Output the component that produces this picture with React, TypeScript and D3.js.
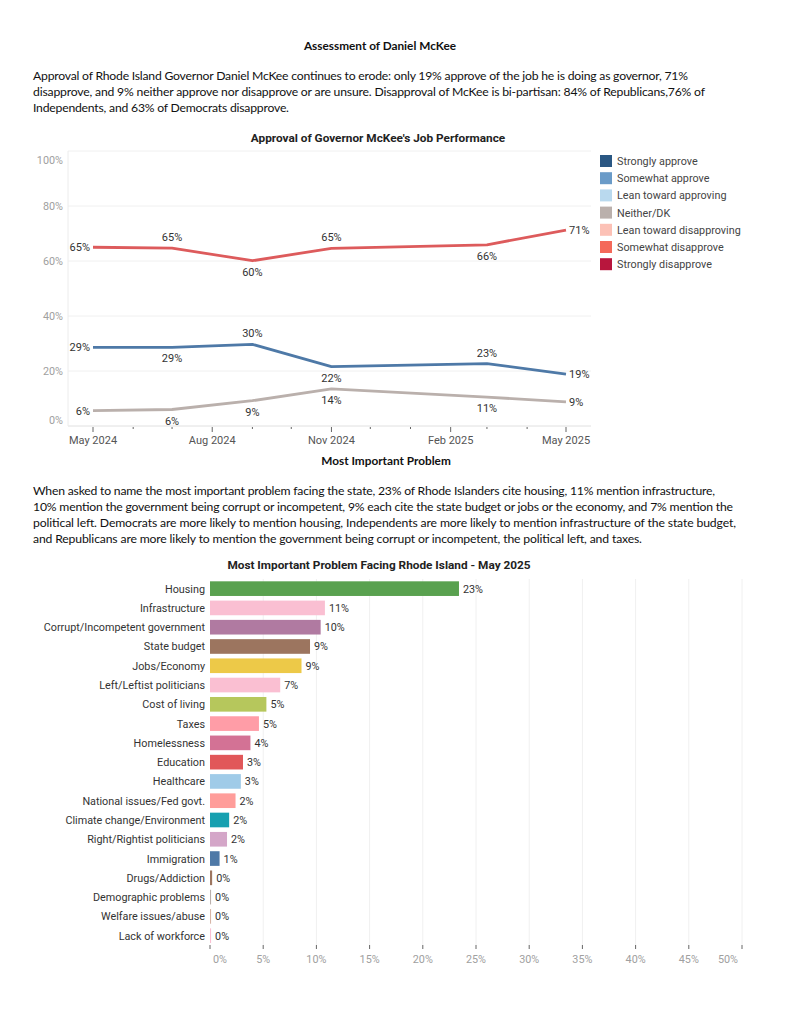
import React from 'react';
import * as d3 from 'd3';

// ---- Approval trend data ----
const surveyDates = ['2024-05-01', '2024-07-01', '2024-09-01', '2024-11-01', '2025-03-01', '2025-05-01'];
const disapproveValues = [65.0, 64.7, 60.1, 64.6, 65.9, 71.2];
const approveValues = [28.6, 28.6, 29.7, 21.6, 22.7, 18.9];
const neitherValues = [5.6, 6.0, 9.2, 13.5, 10.5, 8.8];
const approvalTicks = [0, 20, 40, 60, 80, 100];
const monthTickLabels = ['May 2024', 'Aug 2024', 'Nov 2024', 'Feb 2025', 'May 2025'];

const legendLabels = [
  'Strongly approve',
  'Somewhat approve',
  'Lean toward approving',
  'Neither/DK',
  'Lean toward disapproving',
  'Somewhat disapprove',
  'Strongly disapprove'
];
const legendColors = ['#2a5783', '#6a9bc8', '#b9d9ee', '#bab0ac', '#fcc1b6', '#f4695a', '#b8163d'];

// ---- Most important problem data ----
const problemCategories = [
  'Housing',
  'Infrastructure',
  'Corrupt/Incompetent government',
  'State budget',
  'Jobs/Economy',
  'Left/Leftist politicians',
  'Cost of living',
  'Taxes',
  'Homelessness',
  'Education',
  'Healthcare',
  'National issues/Fed govt.',
  'Climate change/Environment',
  'Right/Rightist politicians',
  'Immigration',
  'Drugs/Addiction',
  'Demographic problems',
  'Welfare issues/abuse',
  'Lack of workforce'
];
const problemValues = [23.4, 10.8, 10.4, 9.4, 8.6, 6.6, 5.3, 4.6, 3.8, 3.1, 2.9, 2.4, 1.8, 1.6, 0.9, 0.2, 0.1, 0.1, 0.1];
const problemTicks = [0, 5, 10, 15, 20, 25, 30, 35, 40, 45, 50];
const problemColors = [
  '#59a14f', '#fabfd2', '#b07aa1', '#9c755f', '#edc948', '#fabfd2', '#b6c75c',
  '#ff9da7', '#d37295', '#e15759', '#a0cbe8', '#ff9d9a', '#17a0b0', '#d4a6c8',
  '#4e79a7', '#9d7660', '#bab0ac', '#d7b5a6', '#fabfd2'
];

const para1 = [
  'Approval of Rhode Island Governor Daniel McKee continues to erode: only 19% approve of the job he is doing as governor, 71%',
  'disapprove, and 9% neither approve nor disapprove or are unsure. Disapproval of McKee is bi-partisan: 84% of Republicans,76% of',
  'Independents, and 63% of Democrats disapprove.'
];
const para2 = [
  'When asked to name the most important problem facing the state, 23% of Rhode Islanders cite housing, 11% mention infrastructure,',
  '10% mention the government being corrupt or incompetent, 9% each cite the state budget or jobs or the economy, and 7% mention the',
  'political left. Democrats are more likely to mention housing, Independents are more likely to mention infrastructure of the state budget,',
  'and Republicans are more likely to mention the government being corrupt or incompetent, the political left, and taxes.'
];
// measured line widths in the source page
const para1Widths = [655, 672, 256];
const para2Widths = [682, 700, 703, 609];

type Side = 'left' | 'right' | 'above' | 'below';
const lineSeries: { name: string; values: number[]; color: string; sides: Side[] }[] = [
  { name: 'disapprove', values: disapproveValues, color: '#dd5b5c', sides: ['left', 'above', 'below', 'above', 'below', 'right'] },
  { name: 'approve', values: approveValues, color: '#4e79a7', sides: ['left', 'below', 'above', 'below', 'above', 'right'] },
  { name: 'neither', values: neitherValues, color: '#bab0ac', sides: ['left', 'below', 'below', 'below', 'below', 'right'] }
];

const TEXT_FONT = 'Lato, "Open Sans", sans-serif';
const CHART_FONT = 'Roboto, "Noto Sans", sans-serif';

const Paragraph: React.FC<{ lines: string[]; widths: number[]; y: number }> = ({ lines, widths, y }) => (
  <g fontFamily={TEXT_FONT} fontSize={12.2} fill="#111">
    {lines.map((l, i) => (
      <text key={i} x={33} y={y + i * 16} textLength={widths[i]} lengthAdjust="spacing">{l}</text>
    ))}
  </g>
);

const ApprovalChart: React.FC = () => {
  const parse = d3.timeParse('%Y-%m-%d');
  const dates = surveyDates.map(d => parse(d) as Date);
  const x = d3.scaleTime().domain([dates[0], dates[dates.length - 1]]).range([93, 566]);
  const y = d3.scaleLinear().domain([0, 100]).range([426, 151]);
  const left = 68;
  const right = 591;

  const months = d3.timeMonth.range(dates[0], d3.timeMonth.offset(dates[dates.length - 1], 1));
  const majorMonths = months.filter((_, i) => i % 3 === 0);

  const line = d3.line<number>()
    .x((_, i) => x(dates[i]))
    .y(d => y(d));

  return (
    <g>
      <text x={378} y={142} textAnchor="middle" fontFamily={CHART_FONT} fontWeight="bold" fontSize={11.8} fill="#222">
        Approval of Governor McKee's Job Performance
      </text>
      {approvalTicks.map(t => (
        <line key={t} x1={left} x2={right} y1={y(t)} y2={y(t)} stroke={t === 0 ? '#e0e0e0' : '#f0f0f0'} />
      ))}
      <line x1={left} x2={left} y1={y(100)} y2={y(0)} stroke="#ececec" />
      {approvalTicks.map((t, i) => (
        <text key={t} x={63} y={y(t) + (i === 0 ? -2 : i === approvalTicks.length - 1 ? 13 : 4)}
          textAnchor="end" fontFamily={CHART_FONT} fontSize={10.8} fill="#a0a0a0">
          {t}%
        </text>
      ))}
      {months.map((m, i) => (
        <line key={i} x1={x(m)} x2={x(m)} y1={427} y2={i % 3 === 0 ? 432 : 429} stroke="#666" />
      ))}
      {majorMonths.map((m, i) => (
        <text key={i} x={x(m)} y={444} textAnchor="middle" fontFamily={CHART_FONT} fontSize={11} fill="#555">
          {monthTickLabels[i]}
        </text>
      ))}
      {lineSeries.map(s => (
        <g key={s.name}>
          <path d={line(s.values) || ''} fill="none" stroke={s.color} strokeWidth={2.8} strokeLinejoin="round" />
          {s.values.map((v, i) => {
            const px = x(dates[i]);
            const py = y(v);
            const side = s.sides[i];
            let tx = px;
            let ty = py + 4;
            let anchor = 'middle';
            if (side === 'left') { tx = px - 3; anchor = 'end'; }
            if (side === 'right') { tx = px + 3; anchor = 'start'; }
            if (side === 'above') { ty = py - 7; }
            if (side === 'below') { ty = py + 15; }
            return (
              <text key={i} x={tx} y={ty} textAnchor={anchor} fontFamily={CHART_FONT} fontSize={11} fill="#333">
                {Math.round(v)}%
              </text>
            );
          })}
        </g>
      ))}
      {legendLabels.map((l, i) => (
        <g key={l} transform={`translate(600,${161 + i * 17.2})`}>
          <rect x={0} y={-6} width={12} height={12} fill={legendColors[i]} />
          <text x={17} y={4} fontFamily={CHART_FONT} fontSize={10.8} fill="#444">{l}</text>
        </g>
      ))}
    </g>
  );
};

const ProblemChart: React.FC = () => {
  const x = d3.scaleLinear().domain([0, 50]).range([210, 742]);
  const y = d3.scaleBand().domain(problemCategories).range([579, 945.3]).paddingInner(0.24).paddingOuter(0.12);
  const axisY = 945;

  return (
    <g>
      <text x={379} y={569} textAnchor="middle" fontFamily={CHART_FONT} fontWeight="bold" fontSize={11.8} fill="#222">
        Most Important Problem Facing Rhode Island - May 2025
      </text>
      {problemTicks.slice(1).map(t => (
        <line key={t} x1={x(t)} x2={x(t)} y1={579} y2={axisY} stroke="#f0f0f0" />
      ))}
      {problemCategories.map((c, i) => (
        <g key={c}>
          <rect x={x(0)} y={y(c)} width={Math.max(1, x(problemValues[i]) - x(0))} height={y.bandwidth()} fill={problemColors[i]} />
          <text x={205} y={(y(c) || 0) + y.bandwidth() / 2 + 4} textAnchor="end" fontFamily={CHART_FONT} fontSize={10.8} fill="#333">
            {c}
          </text>
          <text x={x(problemValues[i]) + 4} y={(y(c) || 0) + y.bandwidth() / 2 + 4} fontFamily={CHART_FONT} fontSize={10.8} fill="#333">
            {Math.round(problemValues[i])}%
          </text>
        </g>
      ))}
      {problemTicks.map(t => (
        <line key={t} x1={x(t)} x2={x(t)} y1={axisY} y2={axisY + 4} stroke="#666" />
      ))}
      {problemTicks.map((t, i) => (
        <text key={t} x={x(t) + (i === 0 ? 3 : i === problemTicks.length - 1 ? -4 : 0)} y={963}
          textAnchor={i === 0 ? 'start' : i === problemTicks.length - 1 ? 'end' : 'middle'}
          fontFamily={CHART_FONT} fontSize={10.8} fill="#a0a0a0">
          {t}%
        </text>
      ))}
    </g>
  );
};

export default function App() {
  return (
    <div style={{ position: 'absolute', top: 0, left: 0 }}>
      <svg width={791} height={1024} style={{ display: 'block', background: '#fff' }}>
        <text x={380} y={50} textAnchor="middle" fontFamily={TEXT_FONT} fontWeight="bold" fontSize={11.8} fill="#111">
          Assessment of Daniel McKee
        </text>
        <Paragraph lines={para1} widths={para1Widths} y={80} />
        <ApprovalChart />
        <text x={386} y={465} textAnchor="middle" fontFamily={TEXT_FONT} fontWeight="bold" fontSize={11.8} fill="#111">
          Most Important Problem
        </text>
        <Paragraph lines={para2} widths={para2Widths} y={495} />
        <ProblemChart />
      </svg>
    </div>
  );
}
